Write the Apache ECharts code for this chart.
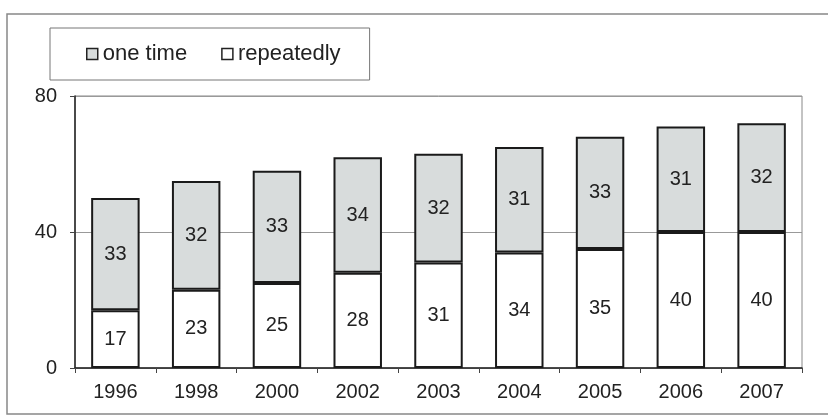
<!DOCTYPE html>
<html>
<head>
    <meta charset="utf-8">
    <title>one time / repeatedly</title>
    <style>
        html, body { margin: 0; padding: 0; background: #fff; }
        #main { width: 828px; height: 420px; }
    </style>
    <script src="https://cdn.jsdelivr.net/npm/echarts@6.0.0/dist/echarts.min.js"></script>
</head>
<body>
<div id="main"></div>
<script>
    var years = ['1996', '1998', '2000', '2002', '2003', '2004', '2005', '2006', '2007']
    var repeatedly = [17, 23, 25, 28, 31, 34, 35, 40, 40]
    var oneTime = [33, 32, 33, 34, 32, 31, 33, 31, 32]
    var yTicks = [0, 40, 80]

    var font = 'Liberation Sans, Arial, sans-serif'
    var myChart = echarts.init(document.getElementById('main'), null, {renderer: 'canvas'})

    var barLabel = {
        show: true,
        position: 'inside',
        color: '#222',
        fontSize: 20,
        fontFamily: font
    }

    myChart.setOption({
        animation: false,
        backgroundColor: '#fff',
        graphic: [{
            type: 'rect',
            shape: {x: 7, y: 14, width: 840, height: 400},
            style: {fill: 'none', stroke: '#888', lineWidth: 1.5},
            silent: true
        }],
        legend: {
            left: 50,
            top: 28,
            data: ['one time', 'repeatedly'],
            icon: 'rect',
            orient: 'horizontal',
            itemWidth: 11,
            itemHeight: 11,
            itemGap: 34,
            padding: [15, 29, 15, 36],
            borderColor: '#777',
            borderWidth: 1,
            textStyle: {fontSize: 22, color: '#222', fontFamily: font},
            itemStyle: {borderWidth: 1.5, borderColor: '#222'}
        },
        grid: {
            left: 75,
            right: 26,
            top: 96,
            bottom: 52,
            show: true,
            borderColor: '#888',
            borderWidth: 1
        },
        xAxis: {
            type: 'category',
            data: years,
            axisLine: {lineStyle: {color: '#222', width: 1.5}},
            axisTick: {show: true, length: 5, lineStyle: {color: '#444'}},
            axisLabel: {fontSize: 20, color: '#222', margin: 14, fontFamily: font},
            splitLine: {show: false}
        },
        yAxis: {
            type: 'value',
            min: yTicks[0],
            max: yTicks[yTicks.length - 1],
            interval: yTicks[1] - yTicks[0],
            axisLine: {show: true, lineStyle: {color: '#222', width: 1.5}},
            axisTick: {show: true, length: 5, lineStyle: {color: '#444'}},
            axisLabel: {fontSize: 20, color: '#222', margin: 18, fontFamily: font},
            splitLine: {show: true, lineStyle: {color: '#999', width: 1}}
        },
        series: [
            {
                name: 'repeatedly',
                type: 'bar',
                stack: 'total',
                data: repeatedly,
                barCategoryGap: '40%',
                itemStyle: {color: '#ffffff', borderColor: '#1a1a1a', borderWidth: 2},
                label: barLabel
            },
            {
                name: 'one time',
                type: 'bar',
                stack: 'total',
                data: oneTime,
                barCategoryGap: '40%',
                itemStyle: {color: '#d8dcdc', borderColor: '#1a1a1a', borderWidth: 2},
                label: barLabel
            }
        ]
    })
</script>
</body>
</html>
